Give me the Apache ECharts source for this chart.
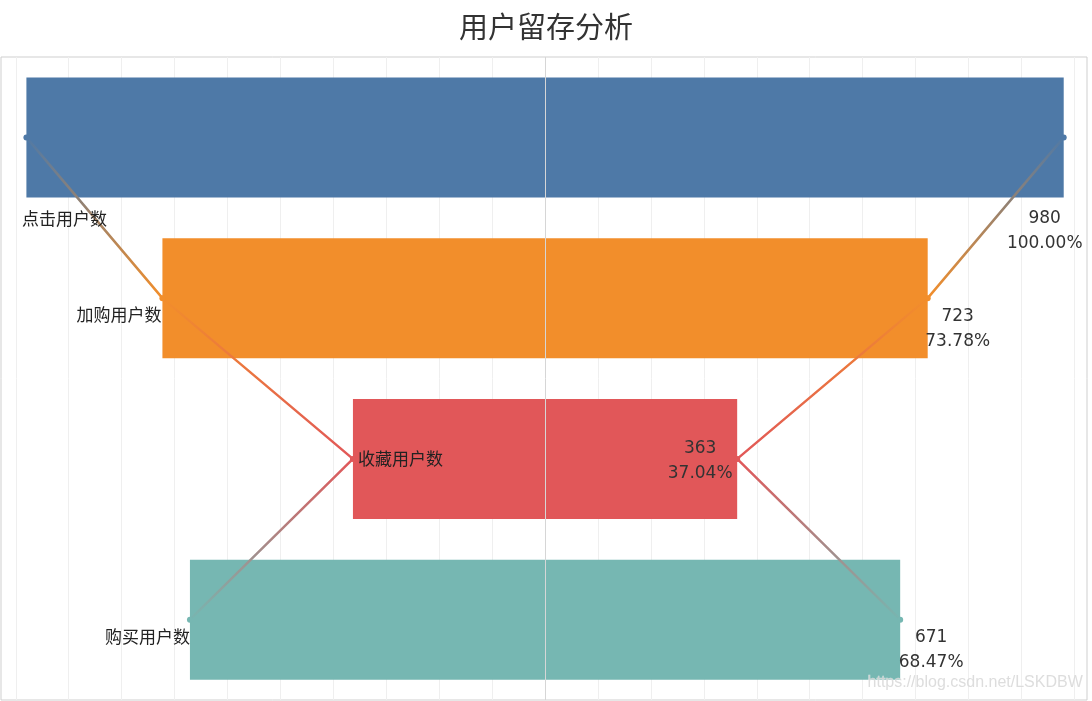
<!DOCTYPE html>
<html><head><meta charset="utf-8">
<script src="https://cdn.jsdelivr.net/npm/echarts@6/dist/echarts.min.js"></script>
<style>html,body{margin:0;padding:0;background:#fff}#c{width:1092px;height:701px}</style>
</head><body><div id="c"></div>
<script>
const categories = ['点击用户数', '加购用户数', '收藏用户数', '购买用户数'];
const userCounts = [980, 723, 363, 671];
const barColors = ['#4e79a7', '#f28e2b', '#e15759', '#76b7b2'];
const gridTicks = [-500, -450, -400, -350, -300, -250, -200, -150, -100, -50, 50, 100, 150, 200, 250, 300, 350, 400, 450, 500];

const base = userCounts[0];
const leftHalf = userCounts.map(v => -v / 2);
const rightHalf = userCounts.map(v => v / 2);
const pctText = userCounts.map(v => (v / base * 100).toFixed(2) + '%');

const leftLabelStyle = [
  {align: 'center', offset: [38, 81]},
  {align: 'right', offset: [-1, 16]},
  {align: 'left', offset: [5, 0]},
  {align: 'right', offset: [0, 17]}
];
const rightLabelStyle = [
  {align: 'center', offset: [-19, 94]},
  {align: 'center', offset: [30, 31]},
  {align: 'center', offset: [-37, 2]},
  {align: 'center', offset: [31, 30]}
];

const lineGrad = new echarts.graphic.LinearGradient(0, 0, 0, 1, [
  {offset: 0, color: barColors[0]},
  {offset: 1/3, color: barColors[1]},
  {offset: 2/3, color: barColors[2]},
  {offset: 1, color: barColors[3]}
]);

const chart = echarts.init(document.getElementById('c'));
chart.setOption({
  animation: false,
  title: {
    text: '用户留存分析', left: 'center', top: 12, padding: 0,
    textStyle: {fontSize: 29, fontWeight: 'normal', color: '#333', fontFamily: 'Noto Sans CJK SC'}
  },
  grid: {left: 1, top: 57, width: 1086, height: 643, show: true, borderColor: '#cfcfcf', borderWidth: 1, backgroundColor: 'transparent'},
  xAxis: {type: 'value', min: -514, max: 512, show: false, splitLine: {show: false}},
  yAxis: {type: 'category', data: categories, inverse: true, show: false},
  series: [
    {
      type: 'scatter', data: [], z: 0, silent: true,
      markLine: {
        z: 0, silent: true, symbol: 'none', label: {show: false},
        lineStyle: {color: '#efefef', width: 1, type: 'solid'},
        data: gridTicks.map(t => ({xAxis: t}))
      }
    },
    {
      type: 'bar', stack: 'funnel', data: leftHalf, barWidth: 120, z: 2,
      itemStyle: {color: p => barColors[p.dataIndex]}
    },
    {
      type: 'bar', stack: 'funnel', data: rightHalf, barWidth: 120, z: 2,
      itemStyle: {color: p => barColors[p.dataIndex]}
    },
    {
      type: 'scatter', data: [], z: 4, silent: true,
      markLine: {
        z: 4, silent: true, symbol: 'none', label: {show: false},
        lineStyle: {color: '#d6d6d6', width: 1, type: 'solid'},
        data: [{xAxis: 0}]
      }
    },
    {
      type: 'line', z: 5, symbol: 'circle', symbolSize: 6,
      lineStyle: {width: 2.5, color: lineGrad},
      data: leftHalf.map((v, i) => ({
        value: [v, i],
        itemStyle: {color: barColors[i]},
        label: {
          show: true, position: 'inside', formatter: categories[i],
          align: leftLabelStyle[i].align, verticalAlign: 'middle', offset: leftLabelStyle[i].offset,
          fontSize: 17, color: '#222', fontFamily: 'Noto Sans CJK SC'
        }
      }))
    },
    {
      type: 'line', z: 5, symbol: 'circle', symbolSize: 6,
      lineStyle: {width: 2.5, color: lineGrad},
      data: rightHalf.map((v, i) => ({
        value: [v, i],
        itemStyle: {color: barColors[i]},
        label: {
          show: true, position: 'inside', formatter: userCounts[i] + '\n' + pctText[i],
          align: rightLabelStyle[i].align, verticalAlign: 'middle', offset: rightLabelStyle[i].offset,
          fontSize: 17, lineHeight: 25, color: '#333', fontFamily: 'DejaVu Sans'
        }
      }))
    }
  ],
  graphic: [{
    type: 'text', right: 9, top: 674, z: 100,
    style: {text: 'https://blog.csdn.net/LSKDBW', fill: 'rgba(215,215,215,0.85)', font: '16px Arial', stroke: 'rgba(255,255,255,0.6)', lineWidth: 0.5}
  }]
});
</script></body></html>
